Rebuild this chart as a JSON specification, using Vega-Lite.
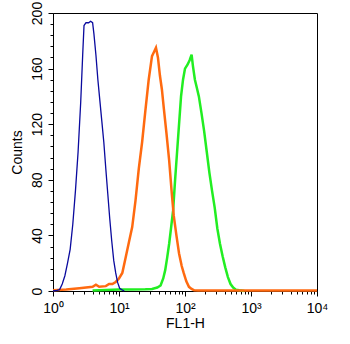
{
  "$schema": "https://vega.github.io/schema/vega-lite/v6.json",
  "autosize": {"type": "none"},
  "padding": {"left": 53, "top": 13, "right": 33, "bottom": 53},
  "width": 264,
  "height": 278,
  "background": "white",
  "config": {
    "font": "Liberation Sans",
    "view": {"stroke": "black", "strokeWidth": 1},
    "axis": {"grid": false, "domainColor": "black", "tickColor": "black", "labelColor": "black", "titleColor": "black", "titleFontWeight": "normal", "labelFontSize": 14, "titleFontSize": 14}
  },
  "datasets": {
    "hist": [
      {"series": "Blank", "fl1h": 1.0, "count": 0},
      {"series": "Blank", "fl1h": 1.148, "count": 0.5},
      {"series": "Blank", "fl1h": 1.259, "count": 1},
      {"series": "Blank", "fl1h": 1.380, "count": 5},
      {"series": "Blank", "fl1h": 1.514, "count": 11},
      {"series": "Blank", "fl1h": 1.660, "count": 20},
      {"series": "Blank", "fl1h": 1.820, "count": 30},
      {"series": "Blank", "fl1h": 1.995, "count": 48},
      {"series": "Blank", "fl1h": 2.188, "count": 72},
      {"series": "Blank", "fl1h": 2.399, "count": 100},
      {"series": "Blank", "fl1h": 2.630, "count": 136},
      {"series": "Blank", "fl1h": 2.818, "count": 170},
      {"series": "Blank", "fl1h": 2.951, "count": 191},
      {"series": "Blank", "fl1h": 3.162, "count": 193},
      {"series": "Blank", "fl1h": 3.467, "count": 193},
      {"series": "Blank", "fl1h": 3.715, "count": 194},
      {"series": "Blank", "fl1h": 3.981, "count": 193},
      {"series": "Blank", "fl1h": 4.169, "count": 185},
      {"series": "Blank", "fl1h": 4.467, "count": 170},
      {"series": "Blank", "fl1h": 4.786, "count": 152},
      {"series": "Blank", "fl1h": 5.129, "count": 137},
      {"series": "Blank", "fl1h": 5.495, "count": 122},
      {"series": "Blank", "fl1h": 5.888, "count": 107},
      {"series": "Blank", "fl1h": 6.310, "count": 88},
      {"series": "Blank", "fl1h": 6.761, "count": 70},
      {"series": "Blank", "fl1h": 7.244, "count": 52},
      {"series": "Blank", "fl1h": 7.762, "count": 36},
      {"series": "Blank", "fl1h": 8.318, "count": 22},
      {"series": "Blank", "fl1h": 8.913, "count": 13},
      {"series": "Blank", "fl1h": 9.550, "count": 6},
      {"series": "Blank", "fl1h": 10.23, "count": 2},
      {"series": "Blank", "fl1h": 10.96, "count": 1},
      {"series": "Blank", "fl1h": 12.02, "count": 0},

      {"series": "Isotype", "fl1h": 1.0, "count": 0.5},
      {"series": "Isotype", "fl1h": 1.585, "count": 1},
      {"series": "Isotype", "fl1h": 2.512, "count": 2},
      {"series": "Isotype", "fl1h": 3.981, "count": 3},
      {"series": "Isotype", "fl1h": 4.467, "count": 4.5},
      {"series": "Isotype", "fl1h": 5.012, "count": 3},
      {"series": "Isotype", "fl1h": 6.310, "count": 3.5},
      {"series": "Isotype", "fl1h": 7.079, "count": 5},
      {"series": "Isotype", "fl1h": 7.943, "count": 5},
      {"series": "Isotype", "fl1h": 8.913, "count": 6.5},
      {"series": "Isotype", "fl1h": 10, "count": 9},
      {"series": "Isotype", "fl1h": 11.22, "count": 13},
      {"series": "Isotype", "fl1h": 12.59, "count": 24},
      {"series": "Isotype", "fl1h": 14.13, "count": 35},
      {"series": "Isotype", "fl1h": 15.85, "count": 46},
      {"series": "Isotype", "fl1h": 17.78, "count": 65},
      {"series": "Isotype", "fl1h": 19.95, "count": 88},
      {"series": "Isotype", "fl1h": 22.39, "count": 107},
      {"series": "Isotype", "fl1h": 25.12, "count": 130},
      {"series": "Isotype", "fl1h": 28.18, "count": 152},
      {"series": "Isotype", "fl1h": 31.62, "count": 169},
      {"series": "Isotype", "fl1h": 33.88, "count": 172},
      {"series": "Isotype", "fl1h": 36.31, "count": 175},
      {"series": "Isotype", "fl1h": 38.90, "count": 168},
      {"series": "Isotype", "fl1h": 41.69, "count": 155},
      {"series": "Isotype", "fl1h": 44.67, "count": 145},
      {"series": "Isotype", "fl1h": 47.86, "count": 131},
      {"series": "Isotype", "fl1h": 52.48, "count": 113},
      {"series": "Isotype", "fl1h": 57.54, "count": 94},
      {"series": "Isotype", "fl1h": 63.10, "count": 70},
      {"series": "Isotype", "fl1h": 67.61, "count": 54},
      {"series": "Isotype", "fl1h": 74.13, "count": 40},
      {"series": "Isotype", "fl1h": 81.28, "count": 27},
      {"series": "Isotype", "fl1h": 89.13, "count": 18},
      {"series": "Isotype", "fl1h": 95.50, "count": 13},
      {"series": "Isotype", "fl1h": 104.7, "count": 7},
      {"series": "Isotype", "fl1h": 114.8, "count": 3},
      {"series": "Isotype", "fl1h": 125.9, "count": 1.5},
      {"series": "Isotype", "fl1h": 138.0, "count": 0.5},
      {"series": "Isotype", "fl1h": 158.5, "count": 0.3},
      {"series": "Isotype", "fl1h": 10000, "count": 0.3},

      {"series": "Antibody", "fl1h": 3.981, "count": 0.3},
      {"series": "Antibody", "fl1h": 6.310, "count": 0.8},
      {"series": "Antibody", "fl1h": 10, "count": 1},
      {"series": "Antibody", "fl1h": 15.85, "count": 1},
      {"series": "Antibody", "fl1h": 25.12, "count": 1.2},
      {"series": "Antibody", "fl1h": 31.62, "count": 1.5},
      {"series": "Antibody", "fl1h": 38.02, "count": 2.5},
      {"series": "Antibody", "fl1h": 42.66, "count": 4},
      {"series": "Antibody", "fl1h": 46.77, "count": 9},
      {"series": "Antibody", "fl1h": 50.12, "count": 15},
      {"series": "Antibody", "fl1h": 53.70, "count": 24},
      {"series": "Antibody", "fl1h": 57.54, "count": 34},
      {"series": "Antibody", "fl1h": 61.66, "count": 46},
      {"series": "Antibody", "fl1h": 66.07, "count": 58},
      {"series": "Antibody", "fl1h": 70.79, "count": 80},
      {"series": "Antibody", "fl1h": 75.86, "count": 100},
      {"series": "Antibody", "fl1h": 81.28, "count": 120},
      {"series": "Antibody", "fl1h": 87.10, "count": 140},
      {"series": "Antibody", "fl1h": 93.33, "count": 152},
      {"series": "Antibody", "fl1h": 100, "count": 160},
      {"series": "Antibody", "fl1h": 109.6, "count": 163},
      {"series": "Antibody", "fl1h": 117.5, "count": 166},
      {"series": "Antibody", "fl1h": 125.9, "count": 170},
      {"series": "Antibody", "fl1h": 131.8, "count": 162},
      {"series": "Antibody", "fl1h": 141.3, "count": 152},
      {"series": "Antibody", "fl1h": 151.4, "count": 146},
      {"series": "Antibody", "fl1h": 162.2, "count": 140},
      {"series": "Antibody", "fl1h": 177.8, "count": 128},
      {"series": "Antibody", "fl1h": 195.0, "count": 115},
      {"series": "Antibody", "fl1h": 213.8, "count": 100},
      {"series": "Antibody", "fl1h": 234.4, "count": 85},
      {"series": "Antibody", "fl1h": 257.0, "count": 72},
      {"series": "Antibody", "fl1h": 281.8, "count": 60},
      {"series": "Antibody", "fl1h": 309.0, "count": 45},
      {"series": "Antibody", "fl1h": 338.8, "count": 34},
      {"series": "Antibody", "fl1h": 371.5, "count": 25},
      {"series": "Antibody", "fl1h": 407.4, "count": 17},
      {"series": "Antibody", "fl1h": 446.7, "count": 10},
      {"series": "Antibody", "fl1h": 489.8, "count": 5},
      {"series": "Antibody", "fl1h": 537.0, "count": 2.5},
      {"series": "Antibody", "fl1h": 588.8, "count": 1},
      {"series": "Antibody", "fl1h": 660.7, "count": 0.5},
      {"series": "Antibody", "fl1h": 794.3, "count": 0}
    ]
  },
  "data": {"name": "hist"},
  "resolve": {"axis": {"x": "independent", "y": "independent"}},
  "layer": [
    {
      "mark": {"type": "line", "strokeOpacity": 0},
      "encoding": {
        "detail": {"field": "series"},
        "x": {
          "field": "fl1h", "type": "quantitative",
          "scale": {"type": "log", "domain": [1, 10000], "nice": false},
          "axis": {
            "orient": "bottom", "title": null, "labels": false, "domain": false, "tickSize": 3,
            "values": [2,3,4,5,6,7,8,9,20,30,40,50,60,70,80,90,200,300,400,500,600,700,800,900,2000,3000,4000,5000,6000,7000,8000,9000]
          }
        },
        "y": {
          "field": "count", "type": "quantitative",
          "scale": {"domain": [0, 200], "nice": false},
          "axis": {
            "orient": "left", "title": null, "labels": false, "domain": false, "tickSize": 3,
            "values": [8,16,24,32,48,56,64,72,88,96,104,112,128,136,144,152,168,176,184,192]
          }
        }
      }
    },
    {
      "encoding": {
        "x": {
          "field": "fl1h", "type": "quantitative",
          "scale": {"type": "log", "domain": [1, 10000], "nice": false},
          "axis": {
            "orient": "bottom",
            "title": "FL1-H",
            "values": [1, 10, 100, 1000, 10000],
            "labelExpr": "datum.value == 1 ? '10⁰' : datum.value == 10 ? '10¹' : datum.value == 100 ? '10²' : datum.value == 1000 ? '10³' : '10⁴'",
            "labelOverlap": false,
            "labelFlush": false,
            "labelBound": false,
            "tickSize": 5,
            "labelPadding": 5,
            "titlePadding": 1
          }
        },
        "y": {
          "field": "count", "type": "quantitative",
          "scale": {"domain": [0, 200], "nice": false},
          "axis": {
            "orient": "left",
            "title": "Counts",
            "values": [0, 40, 80, 120, 160, 200],
            "labelAngle": 270,
            "labelOverlap": false,
            "labelFlush": false,
            "tickSize": 5,
            "labelPadding": 4,
            "titlePadding": 6
          }
        }
      },
      "layer": [
        {
          "transform": [{"filter": "datum.series == 'Antibody'"}],
          "mark": {"type": "line", "interpolate": "linear", "color": "#22ee22", "strokeWidth": 2.5}
        },
        {
          "transform": [{"filter": "datum.series == 'Isotype'"}],
          "mark": {"type": "line", "interpolate": "linear", "color": "#ff6a10", "strokeWidth": 2.5}
        },
        {
          "transform": [{"filter": "datum.series == 'Blank'"}],
          "mark": {"type": "line", "interpolate": "linear", "color": "#0a0a9e", "strokeWidth": 1.3}
        }
      ]
    }
  ]
}
